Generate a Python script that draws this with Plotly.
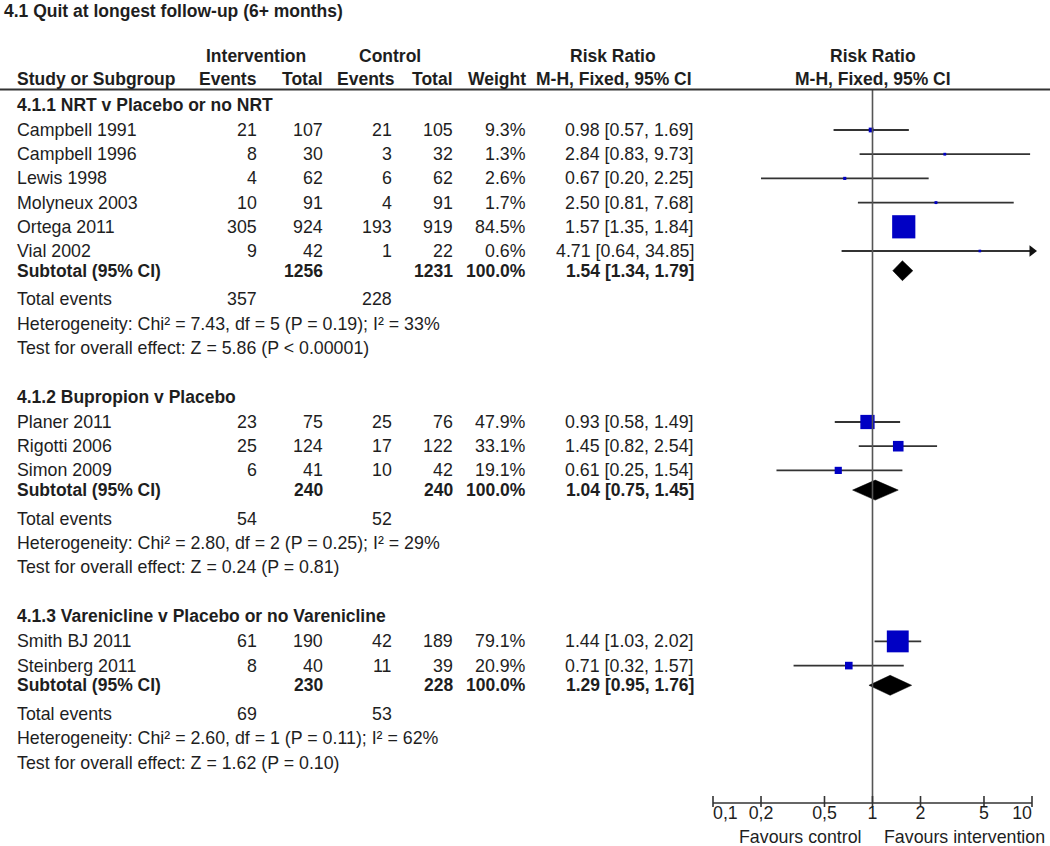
import math
import plotly.graph_objects as go

# ---------------- data ----------------
title_text = "4.1 Quit at longest follow-up (6+ months)"
group_titles = [
    "4.1.1 NRT v Placebo or no NRT",
    "4.1.2 Bupropion v Placebo",
    "4.1.3 Varenicline v Placebo or no Varenicline",
]
study_names = ["Campbell 1991", "Campbell 1996", "Lewis 1998", "Molyneux 2003", "Ortega 2011", "Vial 2002",
               "Planer 2011", "Rigotti 2006", "Simon 2009",
               "Smith BJ 2011", "Steinberg 2011"]
study_group = [0, 0, 0, 0, 0, 0, 1, 1, 1, 2, 2]
int_events = [21, 8, 4, 10, 305, 9, 23, 25, 6, 61, 8]
int_total = [107, 30, 62, 91, 924, 42, 75, 124, 41, 190, 40]
ctl_events = [21, 3, 6, 4, 193, 1, 25, 17, 10, 42, 11]
ctl_total = [105, 32, 62, 91, 919, 22, 76, 122, 42, 189, 39]
weights = [9.3, 1.3, 2.6, 1.7, 84.5, 0.6, 47.9, 33.1, 19.1, 79.1, 20.9]
rr = [0.98, 2.84, 0.67, 2.50, 1.57, 4.71, 0.93, 1.45, 0.61, 1.44, 0.71]
rr_lo = [0.57, 0.83, 0.20, 0.81, 1.35, 0.64, 0.58, 0.82, 0.25, 1.03, 0.32]
rr_hi = [1.69, 9.73, 2.25, 7.68, 1.84, 34.85, 1.49, 2.54, 1.54, 2.02, 1.57]

sub_int_total = [1256, 240, 230]
sub_ctl_total = [1231, 240, 228]
sub_weight = [100.0, 100.0, 100.0]
sub_rr = [1.54, 1.04, 1.29]
sub_lo = [1.34, 0.75, 0.95]
sub_hi = [1.79, 1.45, 1.76]
sub_int_events = [357, 54, 69]
sub_ctl_events = [228, 52, 53]
het_chi2 = ["7.43", "2.80", "2.60"]
het_df = [5, 2, 1]
het_p = ["0.19", "0.25", "0.11"]
het_i2 = [33, 29, 62]
z_vals = ["5.86", "0.24", "1.62"]
z_p = ["P &lt; 0.00001", "P = 0.81", "P = 0.10"]

axis_ticks = [0.1, 0.2, 0.5, 1, 2, 5, 10]
axis_tick_labels = ["0,1", "0,2", "0,5", "1", "2", "5", "10"]
favours_left = "Favours control"
favours_right = "Favours intervention"

# ---------------- layout constants ----------------
W, H = 1050, 846
X_ONE = 872.5          # pixel of RR = 1
PX_DEC = 159.5         # pixels per decade
X_MAX = 10
FONT = "Liberation Sans, Arial, sans-serif"
FS = 17.8
FSB = 17.5
TXT = "#1e1e1e"
LINE = "#333333"
BLUE = "#0000c4"

COL_NAME = 15
COL_IE = 259
COL_IT = 325
COL_CE = 394
COL_CT = 455
COL_W = 528
COL_CI = 696

annotations = []


def txt(x, y, s, anchor="left", bold=False, size=None):
    if size is None:
        size = FSB if bold else FS
    annotations.append(dict(
        x=x / W, xref="paper", y=y, yref="y", text=("<b>%s</b>" % s) if bold else s,
        xanchor=anchor, yanchor="middle", showarrow=False,
        font=dict(family=FONT, size=size, color=TXT)))


fig = go.Figure()

# header
txt(2, 11, title_text, bold=True)
txt(256, 56, "Intervention", "center", True)
txt(390, 56, "Control", "center", True)
txt(613, 56, "Risk Ratio", "center", True)
txt(COL_NAME, 79, "Study or Subgroup", bold=True)
txt(COL_IE, 79, "Events", "right", True)
txt(COL_IT, 79, "Total", "right", True)
txt(COL_CE + 3, 79, "Events", "right", True)
txt(COL_CT, 79, "Total", "right", True)
txt(COL_W, 79, "Weight", "right", True)
txt(COL_CI - 2, 79, "M-H, Fixed, 95% CI", "right", True)
txt(X_ONE, 56, "Risk Ratio", "center", True)
txt(X_ONE, 79, "M-H, Fixed, 95% CI", "center", True)

ROW = 24.2
y = 105
for g, gtitle in enumerate(group_titles):
    txt(COL_NAME, y, gtitle, bold=True)
    y += 25
    idx = [i for i, sg in enumerate(study_group) if sg == g]
    for k, i in enumerate(idx):
        if k > 0:
            y += ROW
        txt(COL_NAME, y, study_names[i])
        txt(COL_IE, y, str(int_events[i]), "right")
        txt(COL_IT, y, str(int_total[i]), "right")
        txt(COL_CE, y, str(ctl_events[i]), "right")
        txt(COL_CT, y, str(ctl_total[i]), "right")
        txt(COL_W, y, "%.1f%%" % weights[i], "right")
        txt(COL_CI, y, "%.2f [%.2f, %.2f]" % (rr[i], rr_lo[i], rr_hi[i]), "right")
        hi = min(rr_hi[i], X_MAX)
        fig.add_trace(go.Scatter(x=[rr_lo[i], hi], y=[y, y], mode="lines",
                                 line=dict(color=LINE, width=1.8), hoverinfo="skip"))
        if rr_hi[i] > X_MAX:
            fig.add_trace(go.Scatter(x=[X_MAX], y=[y], mode="markers", cliponaxis=False,
                                     marker=dict(symbol="triangle-right", size=10,
                                                 color="#111", line=dict(width=0)),
                                     hoverinfo="skip"))
        fig.add_trace(go.Scatter(x=[rr[i]], y=[y], mode="markers", cliponaxis=False,
                                 marker=dict(symbol="square", size=2.5 + 0.245 * weights[i],
                                             color=BLUE, line=dict(width=0)),
                                 hoverinfo="skip"))
    # subtotal
    y += 19.7
    txt(COL_NAME, y, "Subtotal (95% CI)", bold=True)
    txt(COL_IT, y, str(sub_int_total[g]), "right", True)
    txt(COL_CT, y, str(sub_ctl_total[g]), "right", True)
    txt(COL_W, y, "%.1f%%" % sub_weight[g], "right", True)
    txt(COL_CI, y, "%.2f [%.2f, %.2f]" % (sub_rr[g], sub_lo[g], sub_hi[g]), "right", True)
    fig.add_trace(go.Scatter(
        x=[sub_lo[g], sub_rr[g], sub_hi[g], sub_rr[g], sub_lo[g]],
        y=[y, y - 10, y, y + 10, y], mode="lines", fill="toself",
        fillcolor="#000000", line=dict(color="#000000", width=0.5), hoverinfo="skip"))
    y += 28.5
    txt(COL_NAME, y, "Total events")
    txt(COL_IE, y, str(sub_int_events[g]), "right")
    txt(COL_CE, y, str(sub_ctl_events[g]), "right")
    y += 24.3
    txt(COL_NAME, y, "Heterogeneity: Chi² = %s, df = %d (P = %s); I² = %d%%"
        % (het_chi2[g], het_df[g], het_p[g], het_i2[g]))
    y += 24.5
    txt(COL_NAME, y, "Test for overall effect: Z = %s (%s)" % (z_vals[g], z_p[g]))
    y += 49

# vertical line of no effect
AX_Y = 803
fig.add_trace(go.Scatter(x=[1, 1], y=[90, AX_Y], mode="lines",
                         line=dict(color="#555555", width=1.6), hoverinfo="skip"))

# axis
fig.add_trace(go.Scatter(x=[axis_ticks[0], axis_ticks[-1]], y=[AX_Y, AX_Y], mode="lines",
                         line=dict(color=LINE, width=1.6), hoverinfo="skip"))
tx, ty = [], []
for t in axis_ticks:
    tx += [t, t, None]
    ty += [AX_Y - 7, AX_Y + 4, None]
fig.add_trace(go.Scatter(x=tx, y=ty, mode="lines", line=dict(color=LINE, width=1.6),
                         hoverinfo="skip"))
tick_pos = ["middle right"] + ["middle center"] * (len(axis_ticks) - 2) + ["middle left"]
fig.add_trace(go.Scatter(x=axis_ticks, y=[AX_Y + 12] * len(axis_ticks), mode="text",
                         text=axis_tick_labels, textposition=tick_pos, cliponaxis=False,
                         textfont=dict(family=FONT, size=FS, color=TXT), hoverinfo="skip"))
txt(X_ONE - 9, AX_Y + 34, favours_left, "right")
txt(X_ONE + 9, AX_Y + 34, favours_right, "left")

fig.update_layout(
    width=W, height=H, margin=dict(l=0, r=0, t=0, b=0),
    paper_bgcolor="white", plot_bgcolor="white", showlegend=False,
    xaxis=dict(type="log", range=[(0 - X_ONE) / PX_DEC, (W - X_ONE) / PX_DEC],
               visible=False, domain=[0, 1]),
    yaxis=dict(range=[H, 0], visible=False, domain=[0, 1]),
    annotations=annotations,
    shapes=[dict(type="line", xref="paper", x0=0, x1=1, yref="y", y0=89.5, y1=89.5,
                 line=dict(color="#333333", width=2))],
)

fig.write_html("out.html", config={"displayModeBar": False},
               post_script="document.body.style.margin='0';")
